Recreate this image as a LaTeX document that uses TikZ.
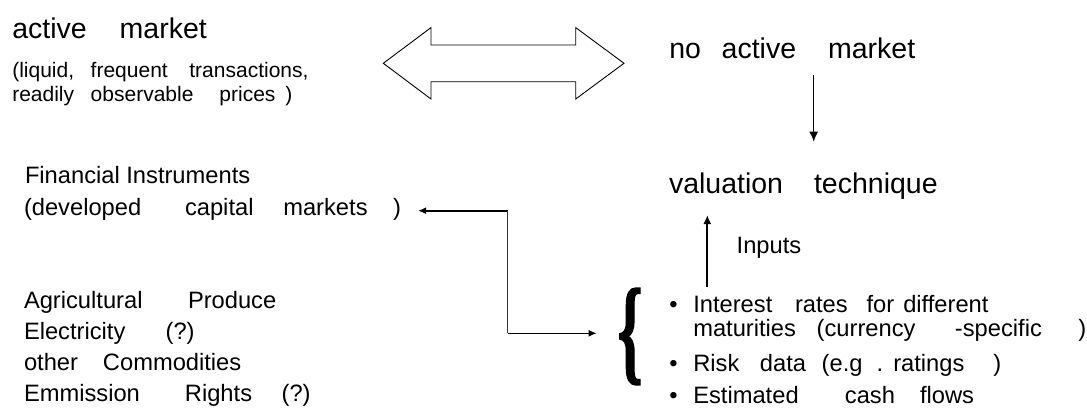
\documentclass[tikz,border=0pt]{standalone}
\usepackage{fontspec}
\usepackage{graphicx}
\setmainfont{Liberation Sans}
\newfontfamily\brfont[BoldFeatures={FakeBold=1.5}]{Liberation Serif}
\usetikzlibrary{arrows.meta}
\newcommand\fbig{\fontsize{28.5}{34}\selectfont}
\newcommand\fmid{\fontsize{23.7}{28}\selectfont}
\newcommand\fsml{\fontsize{21}{25}\selectfont}
\newcommand\gp[1]{\hspace{#1pt}}
\begin{document}
\begin{tikzpicture}[x=1pt,y=-1pt,
  txt/.style={anchor=base west,inner sep=0pt,outer sep=0pt,text=black},
  big/.style={txt,font=\fbig},
  mid/.style={txt,font=\fmid},
  sml/.style={txt,font=\fsml},
  arr/.style={draw=black,line width=1.6pt,-{Latex[length=8pt,width=7pt]}},
  link/.style={draw=black!80,line width=1pt},
  outline/.style={draw=black,line width=0.9pt,line join=miter}]
\useasboundingbox (0,0) rectangle (1087,407);
% left top
\node[big] (act) at (12.3,38.3) {active\gp{33}market};
\node[sml] (liq) at (12.3,77.3) {(liquid,\gp{16.6}frequent\gp{21.6}transactions,};
\node[sml] (rdy) at (12.3,101.7) {readily\gp{16.6}observable\gp{26}prices\gp{10})};
% double arrow
\draw[outline] (383.3,63.3) -- (431,27.6) -- (431,45) -- (575.7,45) -- (575.7,27.6)
  -- (624,63.3) -- (575.7,99) -- (575.7,81.7) -- (431,81.7) -- (431,99) -- cycle;
% right top
\node[big] (noact) at (669.3,58.3) {no\gp{20.7}active\gp{32}market};
\node[big] (val) at (669,193.3) {valuation\gp{31}technique};
\coordinate (dnA) at (813.7,75);
\coordinate (dnB) at (813.7,141.7);
\draw[arr,line width=1.5pt,-{Latex[length=10pt,width=9pt]}] (dnA) -- (dnB);
% left middle / bottom
\node[mid] (fin) at (25,183.3) {Financial Instruments};
\node[mid] (dev) at (24,215.5) {(developed\gp{43.8}capital\gp{29.8}markets\gp{25.4})};
\node[mid] (agr) at (24,308.3) {Agricultural\gp{45.5}Produce};
\node[mid] (ele) at (24,339.3) {Electricity\gp{40.3}(?)};
\node[mid] (oth) at (24,370) {other\gp{25}Commodities};
\node[mid] (emm) at (24,401.2) {Emmission\gp{45.1}Rights\gp{29.5}(?)};
% elbow connector
\coordinate (fintip) at (418,210.7);
\coordinate (j1) at (507.7,210.7);
\coordinate (j2) at (507.7,333.3);
\coordinate (brtip) at (596.7,333.3);
\draw[arr] (j1) -- (fintip);
\draw[link] (j1) -- (j2);
\draw[arr] (j2) -- (brtip);
% brace
\node[inner sep=0pt,outer sep=0pt] (brace) at (630,336.5) {\resizebox{25pt}{81pt}{\brfont\bfseries\{}};
% inputs
\coordinate (upA) at (707.3,286.7);
\coordinate (upB) at (707.3,215);
\draw[arr,line width=1.8pt,-{Latex[length=9pt,width=8pt]}] (upA) -- (upB);
\node[mid] (inp) at (736.7,253.3) {Inputs};
% bullet list
\node[mid] (b1) at (669.4,312.7) {•};
\node[mid] (l1) at (693.3,312.7) {Interest\gp{22.7}rates\gp{18.9}for\gp{9}different};
\node[mid] (l2) at (693.3,336.7) {maturities\gp{20.7}(currency\gp{39.5}-specific\gp{36.4})};
\node[mid] (b2) at (669.4,371.7) {•};
\node[mid] (l3) at (693.3,371.7) {Risk\gp{20.6}data\gp{15.6}(e.g\gp{14.2}.\gp{10}ratings\gp{28.9})};
\node[mid] (b3) at (669.4,403.5) {•};
\node[mid] (l4) at (693.3,403.5) {Estimated\gp{46.3}cash\gp{25}flows};
\end{tikzpicture}
\end{document}
